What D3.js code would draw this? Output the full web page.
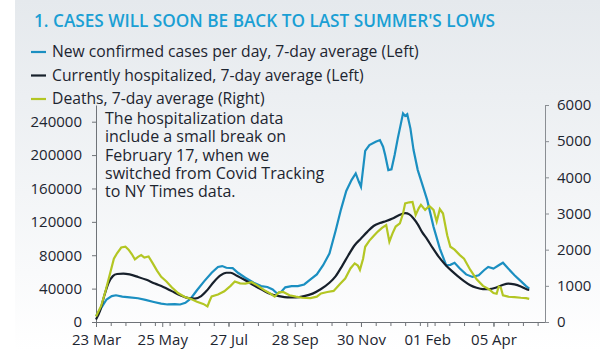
<!DOCTYPE html>
<html>
<head>
<meta charset="utf-8">
<script src="https://cdn.jsdelivr.net/npm/d3@7"></script>
<style>
  body { margin: 0; background: #fff; }
  svg { display: block; font-family: "Open Sans", sans-serif; }
</style>
</head>
<body>
<div id="chart"></div>
<script>
// Series values: [date, value]
const cases = [
  ["2020-03-23", 7000], ["2020-03-28", 17000], ["2020-04-02", 27000], ["2020-04-07", 31000],
  ["2020-04-11", 32000], ["2020-04-17", 30500], ["2020-04-24", 29500], ["2020-05-02", 28500],
  ["2020-05-09", 26500], ["2020-05-17", 24000], ["2020-05-24", 22000], ["2020-05-30", 21000],
  ["2020-06-06", 21500], ["2020-06-11", 21000], ["2020-06-16", 23000], ["2020-06-21", 28000],
  ["2020-06-27", 38000], ["2020-07-04", 49000], ["2020-07-11", 59000], ["2020-07-17", 66000],
  ["2020-07-21", 67000], ["2020-07-25", 65000], ["2020-07-31", 64500], ["2020-08-05", 59000],
  ["2020-08-12", 53000], ["2020-08-20", 47000], ["2020-08-27", 43000], ["2020-09-02", 42000],
  ["2020-09-07", 39000], ["2020-09-11", 34500], ["2020-09-15", 36000], ["2020-09-19", 41500],
  ["2020-09-25", 43000], ["2020-10-01", 43000], ["2020-10-07", 45000], ["2020-10-13", 51000],
  ["2020-10-19", 57000], ["2020-10-25", 68000], ["2020-10-31", 82000], ["2020-11-06", 110000],
  ["2020-11-11", 135000], ["2020-11-16", 157000], ["2020-11-21", 170000], ["2020-11-25", 178000],
  ["2020-11-28", 168000], ["2020-11-30", 162000], ["2020-12-04", 205000], ["2020-12-08", 212000],
  ["2020-12-14", 216000], ["2020-12-18", 218000], ["2020-12-21", 210000], ["2020-12-23", 200000],
  ["2020-12-26", 182000], ["2020-12-29", 183000], ["2021-01-01", 200000], ["2021-01-04", 220000],
  ["2021-01-07", 238000], ["2021-01-09", 250000], ["2021-01-11", 247000], ["2021-01-13", 249000],
  ["2021-01-16", 232000], ["2021-01-19", 206000], ["2021-01-23", 182000], ["2021-01-27", 166000],
  ["2021-02-01", 146000], ["2021-02-07", 114000], ["2021-02-13", 88000], ["2021-02-19", 68000],
  ["2021-02-23", 68500], ["2021-02-27", 71000], ["2021-03-04", 64000], ["2021-03-10", 57000],
  ["2021-03-16", 54000], ["2021-03-22", 56000], ["2021-03-27", 62000], ["2021-03-31", 66000],
  ["2021-04-05", 64000], ["2021-04-10", 68000], ["2021-04-14", 71000], ["2021-04-19", 64000],
  ["2021-04-25", 56000], ["2021-05-01", 49000], ["2021-05-06", 43000], ["2021-05-09", 40000]
];

const hospitalized = [
  ["2020-03-23", 3000], ["2020-03-27", 14000], ["2020-03-31", 32000], ["2020-04-04", 47000],
  ["2020-04-08", 55000], ["2020-04-12", 57500], ["2020-04-18", 58000], ["2020-04-24", 57000],
  ["2020-05-02", 54000], ["2020-05-10", 50500], ["2020-05-18", 46000], ["2020-05-26", 42000],
  ["2020-06-03", 37000], ["2020-06-11", 32000], ["2020-06-19", 28500], ["2020-06-25", 28000],
  ["2020-07-01", 31000], ["2020-07-07", 38500], ["2020-07-13", 48000], ["2020-07-19", 55500],
  ["2020-07-25", 59000], ["2020-07-29", 59000], ["2020-08-04", 55500], ["2020-08-12", 50000],
  ["2020-08-20", 44000], ["2020-08-28", 38500], ["2020-09-05", 33500], ["2020-09-13", 31000],
  ["2020-09-21", 29500], ["2020-09-29", 29500], ["2020-10-07", 31000], ["2020-10-15", 34000],
  ["2020-10-23", 39500], ["2020-10-31", 47000], ["2020-11-06", 55000], ["2020-11-12", 67000],
  ["2020-11-18", 80000], ["2020-11-24", 92000], ["2020-11-30", 100000], ["2020-12-06", 108000],
  ["2020-12-12", 115000], ["2020-12-18", 118500], ["2020-12-24", 121000], ["2020-12-30", 124000],
  ["2021-01-05", 128000], ["2021-01-11", 130500], ["2021-01-15", 129000], ["2021-01-19", 124000],
  ["2021-01-23", 117000], ["2021-01-27", 108000], ["2021-02-01", 99000], ["2021-02-06", 89000],
  ["2021-02-12", 78000], ["2021-02-18", 69000], ["2021-02-24", 61500], ["2021-03-02", 55000],
  ["2021-03-08", 49000], ["2021-03-14", 44000], ["2021-03-20", 41000], ["2021-03-26", 39500],
  ["2021-04-01", 39500], ["2021-04-07", 41000], ["2021-04-13", 44000], ["2021-04-19", 46000],
  ["2021-04-25", 45000], ["2021-05-01", 42500], ["2021-05-07", 39000], ["2021-05-09", 38500]
];

const deaths = [
  ["2020-03-23", 150], ["2020-03-28", 450], ["2020-04-01", 850], ["2020-04-05", 1300],
  ["2020-04-09", 1750], ["2020-04-12", 1900], ["2020-04-16", 2060], ["2020-04-20", 2080],
  ["2020-04-23", 2000], ["2020-04-26", 1880], ["2020-04-29", 1730], ["2020-05-02", 1800],
  ["2020-05-05", 1850], ["2020-05-08", 1780], ["2020-05-12", 1810], ["2020-05-16", 1620],
  ["2020-05-20", 1420], ["2020-05-24", 1250], ["2020-05-29", 1120], ["2020-06-03", 960],
  ["2020-06-09", 800], ["2020-06-15", 700], ["2020-06-21", 640], ["2020-06-27", 560],
  ["2020-07-03", 500], ["2020-07-07", 430], ["2020-07-09", 580], ["2020-07-11", 710],
  ["2020-07-17", 760], ["2020-07-23", 850], ["2020-07-29", 1000], ["2020-08-02", 1120],
  ["2020-08-07", 1070], ["2020-08-12", 1060], ["2020-08-18", 1100], ["2020-08-24", 1000],
  ["2020-08-30", 880], ["2020-09-05", 780], ["2020-09-09", 700], ["2020-09-13", 820],
  ["2020-09-17", 830], ["2020-09-23", 740], ["2020-09-29", 700], ["2020-10-05", 670],
  ["2020-10-13", 660], ["2020-10-19", 700], ["2020-10-23", 790], ["2020-10-29", 830],
  ["2020-11-04", 860], ["2020-11-10", 1050], ["2020-11-15", 1200], ["2020-11-20", 1480],
  ["2020-11-24", 1620], ["2020-11-27", 1560], ["2020-11-29", 1440], ["2020-12-02", 1750],
  ["2020-12-04", 2080], ["2020-12-08", 2250], ["2020-12-12", 2380], ["2020-12-16", 2500],
  ["2020-12-20", 2600], ["2020-12-24", 2680], ["2020-12-27", 2220], ["2020-12-30", 2450],
  ["2021-01-02", 2640], ["2021-01-06", 2730], ["2021-01-09", 3000], ["2021-01-11", 3280],
  ["2021-01-15", 3310], ["2021-01-18", 3320], ["2021-01-21", 2960], ["2021-01-24", 3150],
  ["2021-01-26", 3240], ["2021-01-30", 3100], ["2021-02-03", 3210], ["2021-02-07", 3100],
  ["2021-02-10", 2780], ["2021-02-13", 3120], ["2021-02-16", 3000], ["2021-02-20", 2400],
  ["2021-02-23", 2080], ["2021-02-27", 2000], ["2021-03-04", 1850], ["2021-03-08", 1750],
  ["2021-03-14", 1440], ["2021-03-20", 1180], ["2021-03-26", 1000], ["2021-04-01", 900],
  ["2021-04-05", 800], ["2021-04-08", 780], ["2021-04-10", 980], ["2021-04-12", 950],
  ["2021-04-14", 740], ["2021-04-19", 700], ["2021-04-25", 690], ["2021-05-01", 670],
  ["2021-05-06", 660], ["2021-05-09", 640]
];

// Axis ticks
const xTickDates = ["2020-03-23", "2020-05-25", "2020-07-27", "2020-09-28", "2020-11-30", "2021-02-01", "2021-04-05"];
const leftTicks = [0, 40000, 80000, 120000, 160000, 200000, 240000];
const rightTicks = [0, 1000, 2000, 3000, 4000, 5000, 6000];

const title = "1. CASES WILL SOON BE BACK TO LAST SUMMER'S LOWS";
const legendLabels = [
  "New confirmed cases per day, 7-day average (Left)",
  "Currently hospitalized, 7-day average (Left)",
  "Deaths, 7-day average (Right)"
];
const noteLines = [
  "The hospitalization data",
  "include a small break on",
  "February 17, when we",
  "switched from Covid Tracking",
  "to NY Times data."
];

const colors = ["#1b8fc1", "#17202b", "#b3c623"];
const textColor = "#1d2530";

const parseDate = d3.timeParse("%Y-%m-%d");
const toPoints = arr => arr.map(([d, v]) => ({ date: parseDate(d), value: v }));

// Dimensions
const totalWidth = 600, totalHeight = 351;
const margin = { top: 105, right: 55, bottom: 29, left: 96 };
const width = totalWidth - margin.left - margin.right;
const height = totalHeight - margin.top - margin.bottom;

const root = d3.select('#chart')
    .append('svg')
    .attr('width', totalWidth)
    .attr('height', totalHeight);

// Background panel with soft gradient
const grad = root.append('defs').append('linearGradient')
    .attr('id', 'bg')
    .attr('x1', 0).attr('y1', 0).attr('x2', 0).attr('y2', 1);
grad.append('stop').attr('offset', '0%').attr('stop-color', '#e5e9ed');
grad.append('stop').attr('offset', '55%').attr('stop-color', '#f3f5f7');
grad.append('stop').attr('offset', '100%').attr('stop-color', '#ffffff');

root.append('rect')
    .attr('x', 15).attr('y', 0)
    .attr('width', totalWidth - 15).attr('height', totalHeight)
    .attr('fill', 'url(#bg)');

// Title
root.append('text')
    .attr('x', 34)
    .attr('y', 27)
    .attr('fill', '#1a9fd4')
    .style('font-size', '17.2px')
    .style('font-weight', 600)
    .text(title);

// Legend
legendLabels.forEach((label, i) => {
    const y = 57 + i * 23.5;
    root.append('line')
        .attr('x1', 31).attr('x2', 46)
        .attr('y1', y - 5).attr('y2', y - 5)
        .attr('stroke', colors[i])
        .attr('stroke-width', 2.2);
    root.append('text')
        .attr('x', 52)
        .attr('y', y)
        .attr('fill', textColor)
        .style('font-size', '15.7px')
        .text(label);
});

const svg = root.append('g')
    .attr('transform', `translate(${margin.left},${margin.top})`);

// Scales
const xStart = parseDate("2020-03-23");
const xEnd = d3.timeDay.offset(xStart, 427);
const x = d3.scaleTime().domain([xStart, xEnd]).range([0, width]);
const yLeft = d3.scaleLinear().domain([0, 260000]).range([height, 0]);
const yRight = d3.scaleLinear().domain([0, 6000]).range([height, 0]);

// Axes
const axisColor = "#6f7378";

const minorTicks = d3.timeDay.range(xStart, xEnd, 14);
svg.append('g')
    .attr('transform', `translate(0,${height})`)
    .call(d3.axisBottom(x).tickValues(minorTicks).tickSize(4).tickFormat(''))
    .call(g => g.select('.domain').remove())
    .call(g => g.selectAll('line').attr('stroke', axisColor));

const xAxis = svg.append('g')
    .attr('transform', `translate(0,${height})`)
    .call(d3.axisBottom(x)
        .tickValues(xTickDates.map(parseDate))
        .tickSize(5)
        .tickSizeOuter(0)
        .tickPadding(7)
        .tickFormat(d3.timeFormat('%d %b')));
xAxis.select('.domain').attr('stroke', axisColor);
xAxis.selectAll('line').attr('stroke', axisColor);
xAxis.selectAll('text')
    .attr('fill', textColor)
    .style('font-size', '15px')
    .style('font-family', '"Open Sans", sans-serif');

const leftAxis = svg.append('g')
    .call(d3.axisLeft(yLeft).tickValues(leftTicks).tickSize(4).tickSizeOuter(0).tickPadding(10).tickFormat(d => d));
leftAxis.select('.domain').attr('stroke', axisColor);
leftAxis.selectAll('line').attr('stroke', axisColor);
leftAxis.selectAll('text')
    .attr('fill', textColor)
    .style('font-size', '15px')
    .style('font-family', '"Open Sans", sans-serif');

const rightAxis = svg.append('g')
    .attr('transform', `translate(${width},0)`)
    .call(d3.axisRight(yRight).tickValues(rightTicks).tickSize(4).tickSizeOuter(0).tickPadding(8).tickFormat(d => d));
rightAxis.select('.domain').attr('stroke', '#8a8e93');
rightAxis.selectAll('line').attr('stroke', '#8a8e93');
rightAxis.selectAll('text')
    .attr('fill', textColor)
    .style('font-size', '15px')
    .style('font-family', '"Open Sans", sans-serif');

// Lines
const lineLeft = d3.line().x(d => x(d.date)).y(d => yLeft(d.value));
const lineRight = d3.line().x(d => x(d.date)).y(d => yRight(d.value));

svg.append('path')
    .datum(toPoints(cases))
    .attr('d', lineLeft)
    .attr('fill', 'none')
    .attr('stroke', colors[0])
    .attr('stroke-width', 2.2);

svg.append('path')
    .datum(toPoints(hospitalized))
    .attr('d', lineLeft.curve(d3.curveMonotoneX))
    .attr('fill', 'none')
    .attr('stroke', colors[1])
    .attr('stroke-width', 2.2);

svg.append('path')
    .datum(toPoints(deaths))
    .attr('d', lineRight)
    .attr('fill', 'none')
    .attr('stroke', colors[2])
    .attr('stroke-width', 2.2);

// Annotation
const note = root.append('text')
    .attr('x', 105)
    .attr('y', 124)
    .attr('fill', textColor)
    .style('font-size', '16px');
noteLines.forEach((line, i) => {
    note.append('tspan')
        .attr('x', 105)
        .attr('dy', i === 0 ? 0 : 18.3)
        .text(line);
});
</script>
</body>
</html>
